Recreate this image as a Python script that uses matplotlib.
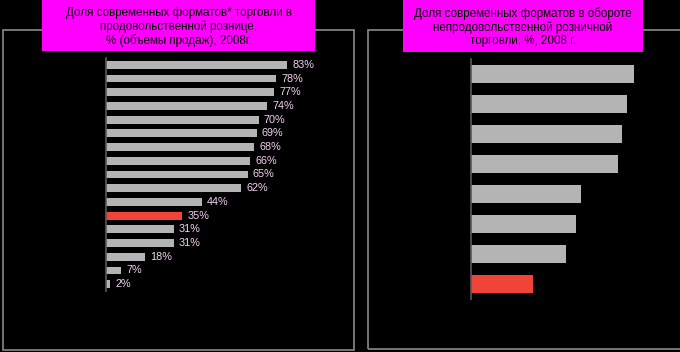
import matplotlib
matplotlib.use("Agg")
import matplotlib.pyplot as plt
from matplotlib.patches import Rectangle

# данные
left_title = "Доля современных форматов* торговли в\nпродовольственной рознице,\n% (объёмы продаж), 2008г."
right_title = "Доля современных форматов в обороте\nнепродовольственной розничной\nторговли, %, 2008 г."

left_values = [83, 78, 77, 74, 70, 69, 68, 66, 65, 62, 44, 35, 31, 31, 18, 7, 2]
left_labels = ["83%", "78%", "77%", "74%", "70%", "69%", "68%", "66%", "65%",
               "62%", "44%", "35%", "31%", "31%", "18%", "7%", "2%"]
left_highlight = 11

right_values = [54.3, 52, 50.3, 49, 36.7, 35, 31.7, 20.7]
right_highlight = 7

W, H = 680, 352
GRAY = "#b4b4b4"
RED = "#f04438"
MAGENTA = "#ff00ff"
plt.rcParams['font.family'] = ['Liberation Sans', 'DejaVu Sans']


def rect(x0, y0, x1, y1):
    # пиксели -> доли фигуры
    return [x0 / W, 1 - y1 / H, (x1 - x0) / W, (y1 - y0) / H]


fig = plt.figure(figsize=(W / 100, H / 100), dpi=100, facecolor="black")

# рамки панелей
for x0, y0, x1, y1 in [(3, 30, 354, 350), (368, 30, 700, 349)]:
    r = rect(x0, y0, x1, y1)
    fig.add_artist(Rectangle((r[0], r[1]), r[2], r[3], transform=fig.transFigure,
                             fill=False, edgecolor="#8a8a8a", linewidth=1.2, zorder=1))

# заголовки
for (x0, y0, x1, y1), txt in [((42, -2, 315, 51), left_title),
                              ((403, -2, 643, 52), right_title)]:
    r = rect(x0, y0, x1, y1)
    fig.add_artist(Rectangle((r[0], r[1]), r[2], r[3], transform=fig.transFigure,
                             facecolor=MAGENTA, edgecolor="none", zorder=3))
    fig.text(r[0] + r[2] / 2, 1 - 27 / H, txt, ha="center", va="center",
             fontsize=8.4, color="black", linespacing=1.15, zorder=4)


def bar_axes(pos, values, highlight, xmax):
    ax = fig.add_axes(pos)
    ax.set_facecolor("none")
    colors = [RED if i == highlight else GRAY for i in range(len(values))]
    ax.barh(range(len(values)), values, height=0.57, color=colors)
    ax.set_ylim(len(values) - 0.5, -0.5)
    ax.set_xlim(0, xmax)
    for s in ["top", "right", "bottom"]:
        ax.spines[s].set_visible(False)
    ax.spines["left"].set_color("#5a5a5a")
    ax.spines["left"].set_linewidth(1.2)
    ax.set_xticks([])
    ax.set_yticks([])
    return ax


ax1 = bar_axes(rect(106, 58, 346, 291), left_values, left_highlight, 110)
for i, (v, lab) in enumerate(zip(left_values, left_labels)):
    ax1.text(v + 2.3, i, lab, va="center", ha="left", fontsize=7.8, color="#f4d4f4")

ax2 = bar_axes(rect(471, 59, 670, 299), right_values, right_highlight, 66.3)

fig.savefig("out.png", dpi=100, facecolor="black")
